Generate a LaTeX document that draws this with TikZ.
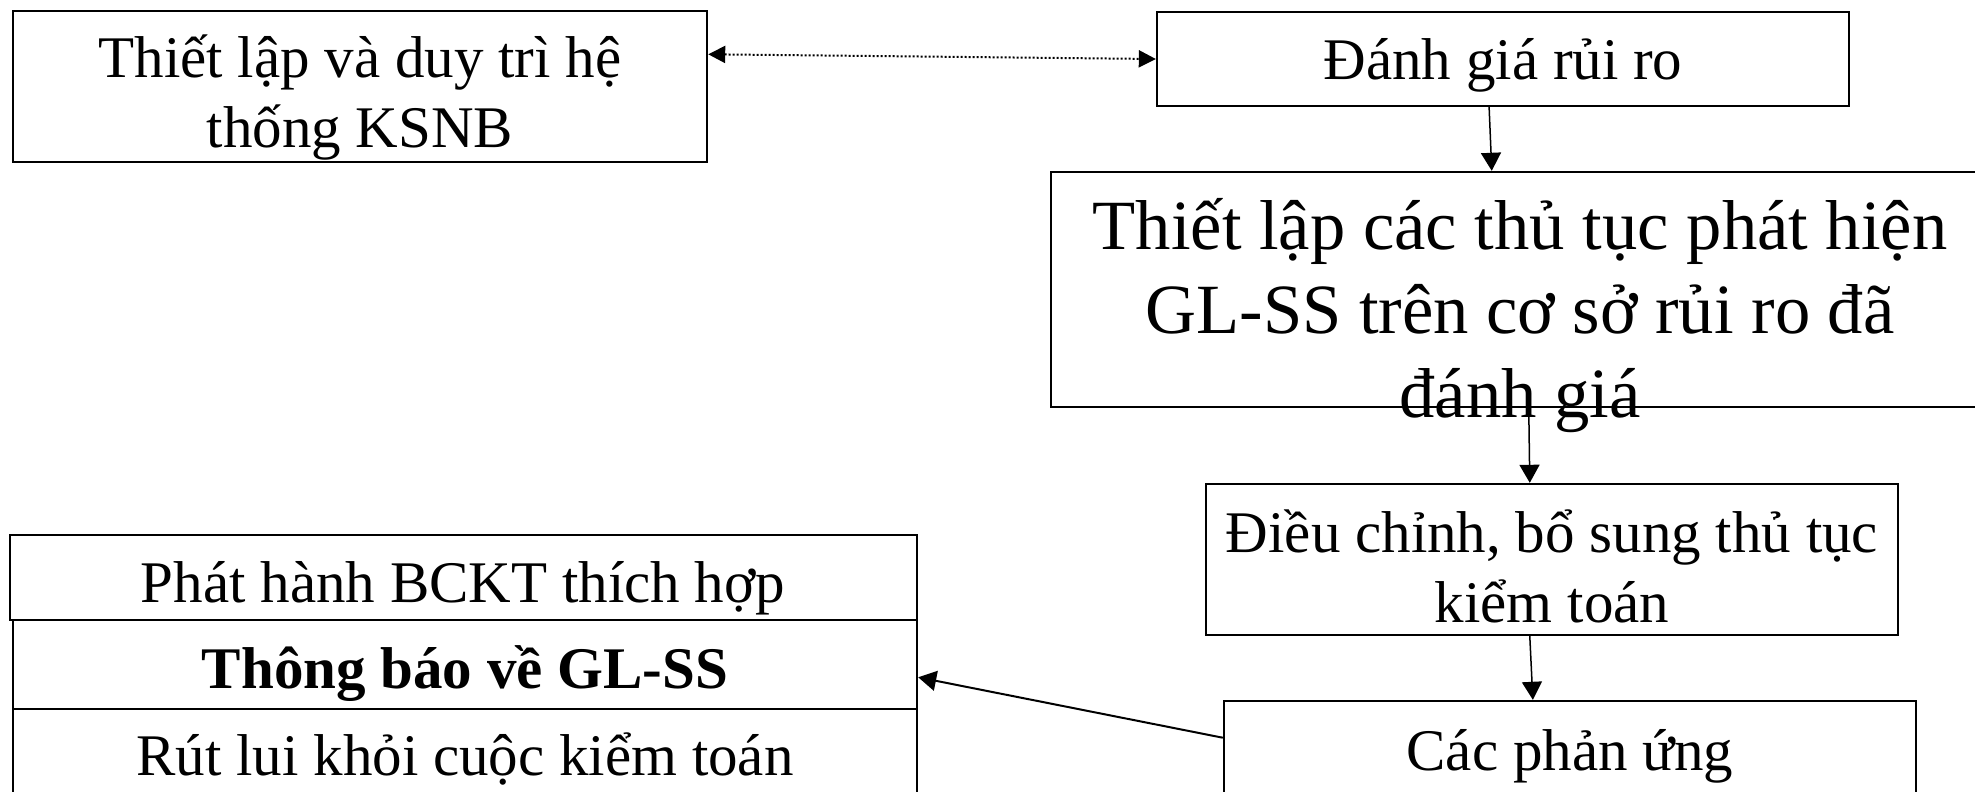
\documentclass[tikz,border=0pt]{standalone}
\usepackage{fontspec}
\setmainfont{Liberation Serif}
\usetikzlibrary{arrows.meta,fit,calc}

\begin{document}
\begin{tikzpicture}[x=0.5pt,y=-0.5pt,
  box/.style={draw, line width=1.2pt, inner sep=0pt},
  txt/.style={inner sep=0pt, align=center, anchor=base, font=\fontsize{29.5}{35}\selectfont},
  bigtxt/.style={inner sep=0pt, align=center, anchor=base, font=\fontsize{35.3}{42}\selectfont},
  flow/.style={-{Triangle[length=9pt,width=10pt]}, line width=0.75pt},
  link/.style={{Triangle[length=8.5pt,width=8.5pt]}-{Triangle[length=8.5pt,width=8.5pt]}, line width=1pt, densely dotted},
]
\useasboundingbox[fill=white] (0,0) rectangle (1975,792);

% boxes
\node[box, fit={(13,11) (707,162)}] (ksnb) {};
\node[box, fit={(1157,12) (1849,106)}] (ruiro) {};
\node[box, fit={(1051,172) (1997,407)}] (thutuc) {};
\node[box, fit={(1206,484) (1898,635)}] (dieuchinh) {};
\node[box, fit={(1224,701) (1916,800)}] (phanung) {};
\node[box, fit={(10,535) (917,620)}] (phathanh) {};
\node[box, fit={(13,620) (917,709)}] (thongbao) {};
\node[box, fit={(13,709) (917,800)}] (rutlui) {};

% texts (base anchor = baseline of the last line)
\node[txt] (ksnbT) at (360,148) {Thiết lập và duy trì hệ\\thống KSNB};
\node[txt] (ruiroT) at (1503,80) {Đánh giá rủi ro};
\node[bigtxt] (thutucT) at (1520,417) {Thiết lập các thủ tục phát hiện\\GL-SS trên cơ sở rủi ro đã\\đánh giá};
\node[txt] (dieuchinhT) at (1552,622) {Điều chỉnh, bổ sung thủ tục\\kiểm toán};
\node[txt] (phanungT) at (1570,770) {Các phản ứng};
\node[txt] (phathanhT) at (463,602) {Phát hành BCKT thích hợp};
\node[txt, font=\fontsize{29.5}{35}\selectfont\bfseries] (thongbaoT) at (465,688) {Thông báo về GL-SS};
\node[txt] (rutluiT) at (465,775) {Rút lui khỏi cuộc kiểm toán};

% connectors
\draw[link] ($(ksnb.north east)!0.29!(ksnb.south east)$) -- (ruiro.west);
\draw[flow] ($(ruiro.south west)!0.48!(ruiro.south east)$) -- ($(thutuc.north west)!0.466!(thutuc.north east)$);
\draw[flow] ($(thutuc.south west)!0.505!(thutuc.south east)$) -- ($(dieuchinh.north west)!0.468!(dieuchinh.north east)$);
\draw[flow] ($(dieuchinh.south west)!0.468!(dieuchinh.south east)$) -- ($(phanung.north west)!0.4465!(phanung.north east)$);
\draw[flow, line width=1pt] ($(phanung.north west)!0.374!(phanung.south west)$) -- ($(thongbao.north east)!0.64!(thongbao.south east)$);
\end{tikzpicture}
\end{document}
